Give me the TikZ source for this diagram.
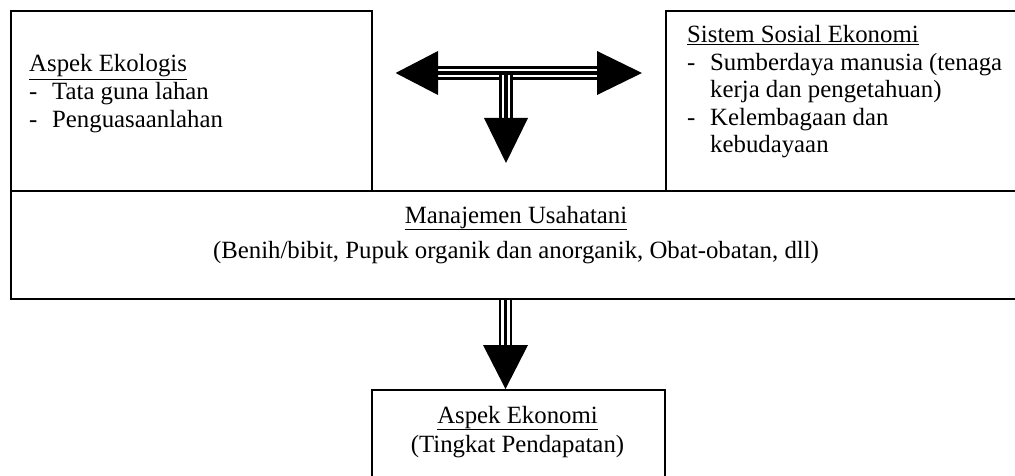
\documentclass[tikz,border=0pt]{standalone}
\usepackage{fontspec}
\setmainfont{Liberation Serif}
\usetikzlibrary{calc}
\def\itm#1{\makebox[23pt][l]{-}#1}
\tikzset{
	box/.style={draw, line width=1.6pt, inner sep=0pt, anchor=north west},
	txt/.style={inner sep=0pt, anchor=base west, font=\fontsize{24.8}{28}\selectfont},
	ctxt/.style={txt, anchor=base},
	shaft/.style={line width=13.5pt, postaction={draw=white, line width=8.5pt}, postaction={draw=black, line width=3.5pt}},
	head/.style={fill=black}
}

\begin{document}
\begin{tikzpicture}[x=1pt, y=-1pt]
		%%%%% START %%%%%
		\path[use as bounding box, clip] (0, 0) rectangle (1015, 476);
		
		\node[box, minimum width=361pt, minimum height=180pt] (eko) at (10, 10) {};
		\node[box, minimum width=373pt, minimum height=180pt] (sos) at (665, 10) {};
		\node[box, minimum width=1028pt, minimum height=108pt] (usaha) at (10, 190) {};
		\node[box, minimum width=293pt, minimum height=110pt] (ekon) at (371, 389) {};
		
		\node[txt] (eko1) at (29, 72) {\underline{Aspek Ekologis}};
		\node[txt] (eko2) at (29, 100) {\itm{Tata guna lahan}};
		\node[txt] (eko3) at (29, 128) {\itm{Penguasaanlahan}};
		
		\node[txt] (sos1) at (687, 43) {\underline{Sistem Sosial Ekonomi}};
		\node[txt] (sos2) at (687, 70.5) {\itm{Sumberdaya manusia (tenaga}};
		\node[txt] (sos3) at (710, 98) {kerja dan pengetahuan)};
		\node[txt] (sos4) at (687, 125.5) {\itm{Kelembagaan dan}};
		\node[txt] (sos5) at (710, 153) {kebudayaan};
		
		\node[ctxt] (usaha1) at (516, 223) {\underline{Manajemen Usahatani}};
		\node[ctxt] (usaha2) at (516, 258) {(Benih/bibit, Pupuk organik dan anorganik, Obat-obatan, dll)};
		
		\node[ctxt] (ekon1) at (517.5, 423) {\underline{Aspek Ekonomi}};
		\node[ctxt] (ekon2) at (517.5, 452) {(Tingkat Pendapatan)};
		
		% arrows between the top boxes
		\coordinate (tl) at (438, 73);
		\coordinate (tr) at (597, 73);
		\coordinate (td) at (506, 118);
		\draw[shaft] (tl) -- (tr);
		\draw[shaft] (506, 75) -- (td);
		\fill[head] (tl) ++(0, -22) -- ++(0, 44) -- ($(eko.east |- tl) + (23, 0)$) -- cycle;
		\fill[head] (tr) ++(0, -22) -- ++(0, 44) -- ($(sos.west |- tr) + (-23, 0)$) -- cycle;
		\fill[head] (td) ++(-22, 0) -- ++(44, 0) -- (506, 163) -- cycle;
		
		% arrow down to the bottom box
		\coordinate (dn) at (505.5, 345);
		\draw[shaft] (dn |- usaha.south) -- (dn);
		\fill[head] (dn) ++(-22.5, 0) -- ++(45, 0) -- (dn |- ekon.north) -- cycle;
		
		%%%%% END %%%%%
\end{tikzpicture}
\end{document}
